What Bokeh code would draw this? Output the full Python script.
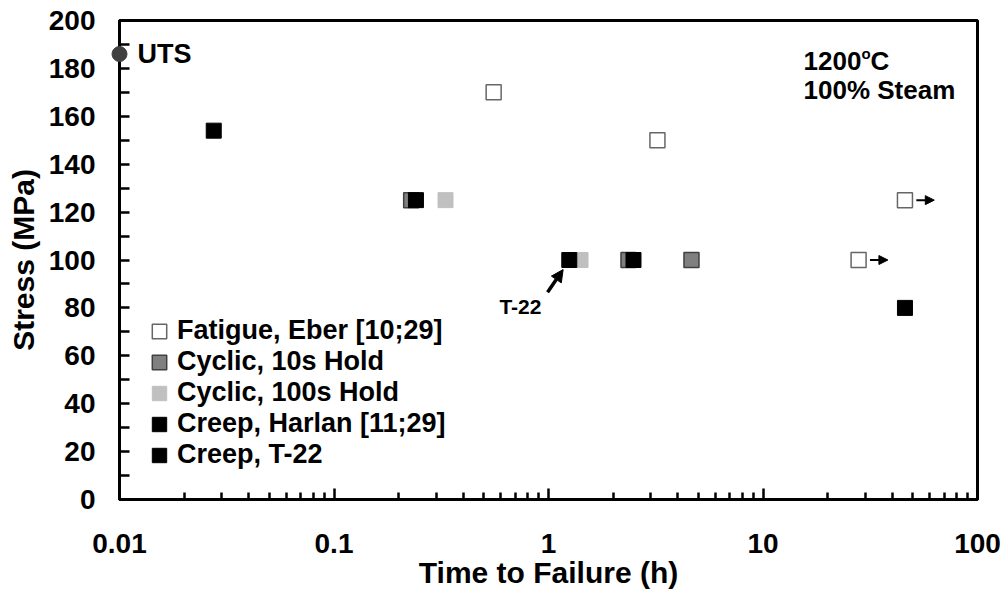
from bokeh.plotting import figure
from bokeh.models import (Range1d, FixedTicker, Legend, LegendItem, Label, Arrow,
                          NormalHead)
from bokeh.embed import file_html
from bokeh.resources import INLINE

# ---------------- data ----------------
uts_time = [0.01]
uts_stress = [186]

fatigue_time = [0.555, 3.22, 45.9, 27.9]
fatigue_stress = [170, 150, 125, 100]
fatigue_runout = [False, False, True, True]

cyc10_time = [0.229, 2.36, 4.64]
cyc10_stress = [125, 100, 100]

cyc100_time = [0.331, 1.41]
cyc100_stress = [125, 100]

harlan_time = [0.0275, 0.241, 2.49, 45.9]
harlan_stress = [154, 125, 100, 80]

t22_time = [1.25]
t22_stress = [100]

x_tick_values = [0.01, 0.1, 1, 10, 100]
x_tick_labels = ["0.01", "0.1", "1", "10", "100"]
y_tick_values = [0, 20, 40, 60, 80, 100, 120, 140, 160, 180, 200]
y_minor_values = [10, 30, 50, 70, 90, 110, 130, 150, 170, 190]

series_labels = ["Fatigue, Eber [10;29]", "Cyclic, 10s Hold", "Cyclic, 100s Hold",
                 "Creep, Harlan [11;29]", "Creep, T-22"]

FONT = "Liberation Sans"

p = figure(width=1007, height=591, x_axis_type="log",
           x_range=Range1d(0.01, 100), y_range=Range1d(0, 200),
           output_backend="svg", toolbar_location=None,
           min_border_left=119, min_border_right=30, min_border_top=20,
           min_border_bottom=91, background_fill_color="white",
           border_fill_color="white")
p.grid.visible = False
p.outline_line_color = "black"
p.outline_line_width = 3

x_minor = [m * d for d in [0.01, 0.1, 1, 10] for m in range(2, 10)]
p.xaxis.ticker = FixedTicker(ticks=x_tick_values, minor_ticks=x_minor)
p.xaxis.major_label_overrides = dict(zip(x_tick_values, x_tick_labels))
p.yaxis.ticker = FixedTicker(ticks=y_tick_values, minor_ticks=y_minor_values)

for ax in (p.xaxis, p.yaxis):
    ax.axis_line_width = 3
    ax.axis_line_color = "black"
    ax.major_tick_line_width = 2.5
    ax.minor_tick_line_width = 2.5
    ax.major_tick_line_color = "black"
    ax.minor_tick_line_color = "black"
    ax.major_tick_out = 0
    ax.minor_tick_out = 0
    ax.major_label_text_font = FONT
    ax.major_label_text_font_style = "bold"
    ax.major_label_text_font_size = "28px"
    ax.major_label_text_color = "black"
    ax.axis_label_text_font = FONT
    ax.axis_label_text_font_style = "bold"
    ax.axis_label_text_font_size = "30px"
    ax.axis_label_text_color = "black"

p.xaxis.major_tick_in = 11
p.xaxis.minor_tick_in = 7
p.yaxis.major_tick_in = 10
p.yaxis.minor_tick_in = 10
p.xaxis.major_label_standoff = 34
p.yaxis.major_label_standoff = 24
p.xaxis.axis_label = "Time to Failure (h)"
p.yaxis.axis_label = "Stress (MPa)"
p.xaxis.axis_label_standoff = 0
p.yaxis.axis_label_standoff = 6

SZ = 15
STY = {
    "fat": dict(fill_color="white", line_color="#666666", line_width=1.5),
    "c10": dict(fill_color="#808080", line_color="#404040", line_width=1.5),
    "c100": dict(fill_color="#c0c0c0", line_color="#c0c0c0", line_width=1),
    "har": dict(fill_color="black", line_color="black", line_width=1),
    "t22": dict(fill_color="black", line_color="black", line_width=1),
}

p.scatter(uts_time, uts_stress, marker="circle", size=SZ,
          fill_color="#404040", line_color="#404040", level="overlay")
series = [("fat", fatigue_time, fatigue_stress), ("c10", cyc10_time, cyc10_stress),
          ("c100", cyc100_time, cyc100_stress), ("har", harlan_time, harlan_stress),
          ("t22", t22_time, t22_stress)]
proxies = []
for key, xs, ys in series:
    p.scatter(xs, ys, marker="square", size=SZ, **STY[key])
    # hidden square-area renderer used only for the legend swatch
    proxies.append(p.rect(x=xs, y=ys, width=0, height=0, visible=False, **STY[key]))

legend = Legend(items=[LegendItem(label=l, renderers=[r]) for l, r in
                       zip(series_labels, proxies)],
                location=(31, 29), orientation="vertical",
                glyph_width=18, glyph_height=18, spacing=0, padding=0, margin=0,
                label_standoff=9, border_line_color=None, background_fill_alpha=0,
                inactive_fill_alpha=0,
                label_text_font=FONT, label_text_font_style="bold",
                label_text_font_size="27px", label_text_color="black")
p.add_layout(legend)

# run-out arrows
for t, s, ro in zip(fatigue_time, fatigue_stress, fatigue_runout):
    if ro:
        p.add_layout(Arrow(x_start=t * 1.13, y_start=s, x_end=t * 1.37, y_end=s,
                           line_width=2, line_color="black",
                           end=NormalHead(size=9, fill_color="black", line_color="black")))

# T-22 pointer
p.add_layout(Arrow(x_start=0.99, y_start=86.5, x_end=1.17, y_end=96,
                   line_width=3.5, line_color="black",
                   end=NormalHead(size=12, fill_color="black", line_color="black")))
p.add_layout(Label(x=0.74, y=80.4, text="T-22", text_align="center",
                   text_baseline="middle", text_font=FONT, text_font_style="bold",
                   text_font_size="21px", text_color="black"))

p.add_layout(Label(x=uts_time[0], y=uts_stress[0], x_offset=18, text="UTS",
                   text_baseline="middle", text_font=FONT, text_font_style="bold",
                   text_font_size="27px", text_color="black"))

# condition annotation
ax_x, ax_y = 15.45, 183
p.add_layout(Label(x=ax_x, y=ax_y, text="1200", text_baseline="middle",
                   text_font=FONT, text_font_style="bold", text_font_size="26px",
                   text_color="black"))
p.add_layout(Label(x=ax_x, y=ax_y, x_offset=58, y_offset=8, text="o",
                   text_baseline="middle", text_font=FONT, text_font_style="bold",
                   text_font_size="15px", text_color="black"))
p.add_layout(Label(x=ax_x, y=ax_y, x_offset=67, text="C", text_baseline="middle",
                   text_font=FONT, text_font_style="bold", text_font_size="26px",
                   text_color="black"))
p.add_layout(Label(x=ax_x, y=170.8, text="100% Steam", text_baseline="middle",
                   text_font=FONT, text_font_style="bold", text_font_size="26px",
                   text_color="black"))

open("out.html", "w").write(file_html(p, INLINE))
